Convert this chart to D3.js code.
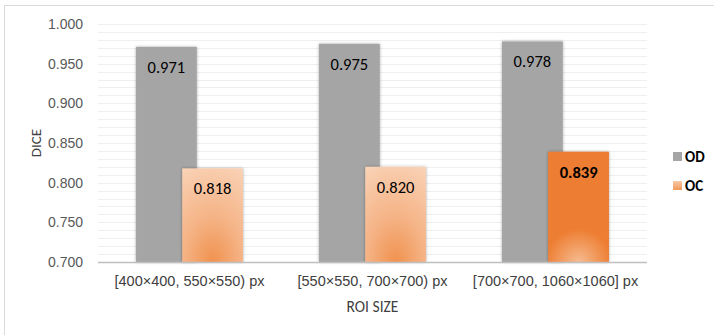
<!DOCTYPE html>
<html>
<head>
<meta charset="utf-8">
<script src="https://cdn.jsdelivr.net/npm/d3@7"></script>
<style>
  body { margin: 0; background: #fff; }
  svg { font-family: Calibri, Carlito, "Open Sans", sans-serif; }
</style>
</head>
<body>
<svg id="chart" width="714" height="335"></svg>
<script>
// data
const categories = ['[400×400, 550×550) px', '[550×550, 700×700) px', '[700×700, 1060×1060] px'];
const seriesNames = ['OD', 'OC'];
const odValues = [0.971, 0.975, 0.978];
const ocValues = [0.818, 0.820, 0.839];
const yTicks = [0.700, 0.750, 0.800, 0.850, 0.900, 0.950, 1.000];

const WIDTH = 714, HEIGHT = 335;
const MARGIN = { left: 98, right: 67, top: 24, bottom: 73 };

const svg = d3.select('#chart');

// outer frame (only left/top visible in the crop)
svg.append('rect')
    .attr('x', 4.5).attr('y', 5.5)
    .attr('width', WIDTH + 20).attr('height', HEIGHT + 20)
    .attr('fill', 'none').attr('stroke', '#d9d9d9');

const defs = svg.append('defs');

// light orange gradient for the first two OC bars
const g1 = defs.append('radialGradient')
    .attr('id', 'ocLight')
    .attr('cx', '50%').attr('cy', '100%').attr('r', '110%')
    .attr('fx', '50%').attr('fy', '100%');
g1.append('stop').attr('offset', '0%').attr('stop-color', '#f0924f');
g1.append('stop').attr('offset', '45%').attr('stop-color', '#f5b487');
g1.append('stop').attr('offset', '100%').attr('stop-color', '#f9d2b6');

// strong orange with lighter spot at the bottom for the highlighted bar
const g2 = defs.append('radialGradient')
    .attr('id', 'ocStrong')
    .attr('cx', '50%').attr('cy', '100%').attr('r', '55%')
    .attr('fx', '50%').attr('fy', '100%')
    .attr('gradientTransform', 'translate(0.5,1) scale(1,0.55) translate(-0.5,-1)');
g2.append('stop').attr('offset', '0%').attr('stop-color', '#f6bb90');
g2.append('stop').attr('offset', '100%').attr('stop-color', '#ed7d31');

const legendGrad = defs.append('linearGradient')
    .attr('id', 'ocLegend').attr('x1', 0).attr('y1', 0).attr('x2', 0).attr('y2', 1);
legendGrad.append('stop').attr('offset', '0%').attr('stop-color', '#f8c9a6');
legendGrad.append('stop').attr('offset', '100%').attr('stop-color', '#f09a5c');

const shadow = defs.append('filter').attr('id', 'shadow')
    .attr('x', '-20%').attr('y', '-20%').attr('width', '140%').attr('height', '140%');
shadow.append('feDropShadow')
    .attr('dx', 0).attr('dy', 0).attr('stdDeviation', 1.6)
    .attr('flood-color', '#000').attr('flood-opacity', 0.35);

// scales
const x = d3.scaleBand()
    .domain(categories)
    .range([MARGIN.left, WIDTH - MARGIN.right]);

const y = d3.scaleLinear()
    .domain([0.7, 1.0])
    .range([HEIGHT - MARGIN.bottom, MARGIN.top]);

const barW = x.bandwidth() * 0.332;
const step = barW * 0.76;
const offsets = { OD: -step / 2, OC: step / 2 };

// minor gridlines every 0.01
const gridVals = d3.range(71, 101).map(d => d / 100);
svg.append('g')
    .selectAll('line')
    .data(gridVals)
    .join('line')
    .attr('x1', MARGIN.left).attr('x2', WIDTH - MARGIN.right)
    .attr('y1', d => Math.round(y(d)) + 0.5)
    .attr('y2', d => Math.round(y(d)) + 0.5)
    .attr('stroke', '#efefef').attr('stroke-width', 1);

// y axis labels
const yAxis = d3.axisLeft(y)
    .tickValues(yTicks)
    .tickFormat(d3.format('.3f'))
    .tickSize(0).tickPadding(15);
const yG = svg.append('g')
    .attr('transform', `translate(${MARGIN.left},0)`)
    .call(yAxis);
yG.select('.domain').remove();
yG.selectAll('text')
    .attr('fill', '#595959')
    .style('font-size', '14px');

// bars
const rows = categories.map((c, i) => ({ cat: c, OD: odValues[i], OC: ocValues[i], i }));

const barFill = (s, i) => {
    if (s === 'OD') return '#a5a5a5';
    return i === 2 ? 'url(#ocStrong)' : 'url(#ocLight)';
};

seriesNames.forEach(s => {
    const g = svg.append('g').attr('class', 'series-' + s);
    g.selectAll('rect')
        .data(rows)
        .join('rect')
        .attr('x', d => x(d.cat) + x.bandwidth() / 2 + offsets[s] - barW / 2)
        .attr('y', d => y(d[s]))
        .attr('width', barW)
        .attr('height', d => y(0.7) - y(d[s]))
        .attr('fill', d => barFill(s, d.i))
        .attr('filter', 'url(#shadow)');

    g.selectAll('text')
        .data(rows)
        .join('text')
        .attr('x', d => x(d.cat) + x.bandwidth() / 2 + offsets[s])
        .attr('y', d => y(d[s]) + 26)
        .attr('text-anchor', 'middle')
        .attr('fill', '#000')
        .style('font-size', '16.5px')
        .style('font-weight', d => (s === 'OC' && d.i === 2) ? 'bold' : 'normal')
        .text(d => d3.format('.3f')(d[s]));
});

// baseline
svg.append('line')
    .attr('x1', MARGIN.left).attr('x2', WIDTH - MARGIN.right)
    .attr('y1', y(0.7) + 0.5).attr('y2', y(0.7) + 0.5)
    .attr('stroke', '#bfbfbf').attr('stroke-width', 1.5);

// x axis labels
const xAxis = d3.axisBottom(x).tickSize(0).tickPadding(14);
const xG = svg.append('g')
    .attr('transform', `translate(0,${y(0.7)})`)
    .call(xAxis);
xG.select('.domain').remove();
xG.selectAll('text')
    .attr('fill', '#404040')
    .style('font-size', '14.5px');

// axis titles
svg.append('text')
    .attr('x', (MARGIN.left + WIDTH - MARGIN.right) / 2)
    .attr('y', 312)
    .attr('text-anchor', 'middle')
    .attr('fill', '#404040')
    .style('font-size', '15.5px')
    .text('ROI SIZE');

svg.append('text')
    .attr('transform', `translate(41,${(y(0.85))}) rotate(-90)`)
    .attr('text-anchor', 'middle')
    .attr('fill', '#404040')
    .style('font-size', '15px')
    .text('DICE');

// legend
const legend = svg.append('g').attr('transform', 'translate(673,152)');
legend.selectAll('rect')
    .data(seriesNames)
    .join('rect')
    .attr('x', 0).attr('y', (d, i) => i * 29)
    .attr('width', 9).attr('height', 9)
    .attr('fill', d => d === 'OD' ? '#a5a5a5' : 'url(#ocLegend)');
legend.selectAll('text')
    .data(seriesNames)
    .join('text')
    .attr('x', 12).attr('y', (d, i) => i * 29 + 9.5)
    .attr('fill', '#000')
    .style('font-size', '15px')
    .style('font-weight', 'bold')
    .text(d => d);
</script>
</body>
</html>
